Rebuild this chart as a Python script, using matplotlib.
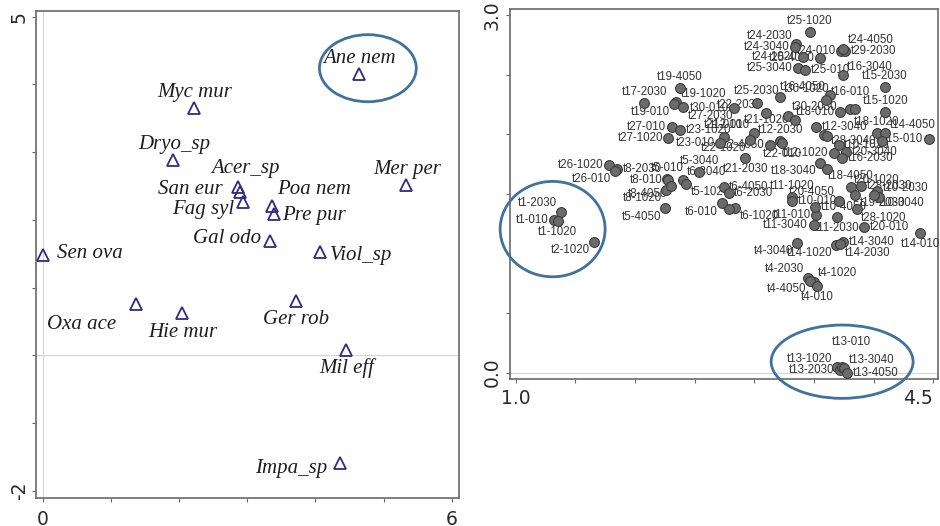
import matplotlib.pyplot as plt
from matplotlib.patches import Ellipse

# species scores (left panel)
species = ["Ane nem", "Myc mur", "Dryo_sp", "Acer_sp", "San eur", "Fag syl",
           "Poa nem", "Pre pur", "Gal odo", "Sen ova", "Viol_sp", "Mer per",
           "Oxa ace", "Hie mur", "Ger rob", "Mil eff", "Impa_sp"]
sp_ax1 = [4.64, 2.215, 1.917, 2.86, 2.89, 2.94, 3.36, 3.39, 3.335, 0.0, 4.07,
          5.33, 1.37, 2.05, 3.72, 4.455, 4.357]
sp_ax2 = [4.16, 3.65, 2.89, 2.48, 2.42, 2.27, 2.21, 2.09, 1.69, 1.48, 1.52,
          2.52, 0.755, 0.62, 0.80, 0.08, -1.59]

# sample scores (right panel)
samples = ["t25-1020", "t24-2030", "t24-3040", "t24-010", "t29-2030", "t24-4050",
           "t24-1020", "t25-4050", "t25-3040", "t25-010", "t16-3040", "t15-2030",
           "t19-4050", "t17-2030", "t25-2030", "t16-4050", "t30-1020", "t16-010",
           "t15-1020", "t19-1020", "t19-010", "t27-2030", "t30-010", "t22-2030",
           "t30-2030", "t18-010", "t16-1020", "t17-010", "t18-1020", "t14-4050",
           "t15-010", "t28-3040", "t12-3040", "t22-3040", "t29-1020", "t12-2030",
           "t21-1020", "t12-010", "t21-010", "t27-010", "t23-1020", "t27-1020",
           "t23-010", "t22-1020", "t12-4050", "t22-010", "t12-1020", "t10-1020",
           "t20-3040", "t16-2030", "t18-3040", "t13-3040b", "t26-1020", "t8-2030",
           "t26-010", "t5-3040", "t5-010", "t8-010", "t6-3040", "t21-2030",
           "t6-4050", "t5-1020", "t6-2030", "t8-1020", "t8-4050", "t5-4050",
           "t6-010", "t6-1020", "t7-010", "t11-1020", "t10-010", "t20-4050",
           "t18-4050", "t20-1020", "t10-2030", "t28-2030", "t19-2030", "t10-3040",
           "t11-010", "t11-3040", "t10-4050", "t28-1020", "t11-2030", "t20-010",
           "t14-010", "t14-3040", "t4-3040", "t14-1020", "t14-2030", "t4-2030",
           "t4-1020", "t4-4050", "t4-010", "t13-1020", "t13-2030", "t13-010",
           "t13-3040", "t13-4050", "t1-2030", "t1-010", "t1-1020", "t2-1020"]
smp_ax1 = [3.463, 3.352, 3.343, 3.729, 3.763, 3.746,
           3.410, 3.553, 3.368, 3.427, 3.743, 4.092,
           2.378, 2.079, 3.022, 3.631, 3.211, 3.603,
           4.098, 2.345, 2.329, 2.404, 2.832, 3.100,
           3.279, 3.721, 3.805, 3.847, 4.029, 4.098,
           4.461, 4.072, 3.519, 3.580, 3.609, 3.217,
           3.343, 3.000, 2.742, 2.309, 2.378, 2.280,
           2.714, 2.966, 3.134, 3.232, 3.664, 3.706,
           3.771, 3.735, 3.553, 3.609, 1.785, 1.852,
           1.833, 2.540, 2.267, 2.280, 2.401, 2.924,
           2.742, 2.429, 2.784, 2.261, 2.303, 2.253,
           2.728, 2.840, 2.784, 3.315, 3.318, 3.712,
           3.810, 4.029, 4.042, 3.896, 3.847, 4.006,
           3.519, 3.497, 3.511, 3.861, 3.693, 3.922,
           4.392, 3.743, 3.357, 3.687, 3.721, 3.450,
           3.497, 3.469, 3.525, 3.693, 3.715, 3.735,
           3.754, 3.777, 1.378, 1.321, 1.352, 1.657]
smp_ax2 = [2.856, 2.757, 2.732, 2.699, 2.699, 2.716,
           2.649, 2.641, 2.556, 2.539, 2.497, 2.394,
           2.386, 2.260, 2.265, 2.330, 2.310, 2.288,
           2.185, 2.271, 2.254, 2.225, 2.218, 2.176,
           2.154, 2.185, 2.210, 2.210, 2.008, 2.008,
           1.958, 1.944, 2.064, 1.994, 1.985, 1.944,
           2.121, 2.008, 1.980, 2.059, 2.036, 1.966,
           1.925, 1.952, 1.910, 1.925, 1.841, 1.910,
           1.852, 1.799, 1.757, 1.706, 1.742, 1.706,
           1.692, 1.681, 1.622, 1.617, 1.617, 1.799,
           1.560, 1.583, 1.510, 1.533, 1.566, 1.379,
           1.421, 1.384, 1.373, 1.470, 1.441, 1.443,
           1.555, 1.524, 1.477, 1.566, 1.491, 1.491,
           1.323, 1.239, 1.393, 1.371, 1.309, 1.225,
           1.169, 1.099, 1.091, 1.071, 1.075, 0.797,
           0.763, 0.769, 0.727, 0.045, 0.023, 0.050,
           0.039, 0.000, 1.351, 1.281, 1.275, 1.099]

# label placement around each species / sample point
sp_offsets = [(0, 10.8), (0.5, 11.3), (0.5, 11), (5.3, 13.7), (-35.8, 1.4),
              (-28.6, -5.3), (30.5, 11.5), (29.3, -1.4), (-31.2, 1.9),
              (34.1, 1), (29.3, -1.9), (0.5, 11.3), (-38.9, -14.2),
              (0.2, -13.7), (0.2, -13.2), (0, -13.2), (-35, -3.6)]
smp_pos = ["t", "tl", "l", "l", "r", "tr",
           "l", "l", "l", "r", "tr", "t",
           "t", "t", "t", "tl", "tr", "tr",
           "t", "tr", "bl", "br", "l", "tl",
           "tr", "l", "", "", "t", "tr",
           "l", "l", "r", "", "", "t",
           "l", "tl", "t", "l", "r", "l",
           "l", "bl", "l", "b", "l", "r",
           "r", "r", "bl", "", "l", "r",
           "bl", "t", "t", "l", "tr", "b",
           "r", "br", "r", "bl", "bl", "bl",
           "bl", "br", "", "t", "r", "tl",
           "t", "t", "tr", "r", "br", "br",
           "l", "l", "r", "br", "b", "r",
           "b", "r", "bl", "bl", "br", "tl",
           "tr", "bl", "b", "tl", "l", "T",
           "tr", "r", "tl", "l", "b", "bl"]
pos_style = {"t": (0, 8, "center"), "b": (0, -8, "center"),
             "l": (-4, 0, "right"), "r": (4, 0, "left"),
             "tl": (-3, 6, "right"), "tr": (3, 6, "left"),
             "bl": (-3, -6, "right"), "br": (3, -6, "left"),
             "T": (7, 18, "center")}

ring = "#41719c"
spine_col = "#6a6a6a"

fig = plt.figure(figsize=(9.4, 5.26), dpi=100)
ax1 = fig.add_axes([0.0383, 0.0538, 0.45, 0.926])
ax2 = fig.add_axes([0.5426, 0.2795, 0.4553, 0.7034])

# ---- left: species
ax1.axhline(0, color="#d4d4d4", lw=0.8, zorder=0)
ax1.axvline(0, color="#d4d4d4", lw=0.8, zorder=0)
ax1.plot(sp_ax1, sp_ax2, linestyle="none", marker="^", markersize=8.5,
         markerfacecolor="none", markeredgecolor="#2e2a85", markeredgewidth=1.3)
for name, x, y, off in zip(species, sp_ax1, sp_ax2, sp_offsets):
    ax1.annotate(name, (x, y), xytext=off, textcoords="offset points",
                 ha="center", va="center", fontsize=15, fontstyle="italic",
                 family="Liberation Serif", color="#1e1e1e")
ax1.add_patch(Ellipse((4.77, 4.24), 1.42, 0.99, fill=False, edgecolor=ring,
                      lw=2, clip_on=False))
ax1.set_xlim(-0.098, 6.107)
ax1.set_ylim(-2.1, 5.09)
ax1.set_xticks(range(0, 7))
ax1.set_xticklabels(["0", "", "", "", "", "", "6"])
ax1.set_yticks(range(-2, 6))
ax1.set_yticklabels(["-2", "", "", "", "", "", "", "5"], rotation=90, va="center")
ax1.tick_params(direction="out", length=3, color=spine_col, labelsize=13.5,
                labelcolor="#2a2a2a")
ax1.tick_params(axis="x", pad=6)
ax1.tick_params(axis="y", pad=2)

# ---- right: samples
ax2.axhline(0, color="#d4d4d4", lw=0.8, zorder=0)
for name, x, y, p in zip(samples, smp_ax1, smp_ax2, smp_pos):
    if not p:
        continue
    dx, dy, ha = pos_style[p]
    ax2.annotate(name, (x, y), xytext=(dx, dy), textcoords="offset points",
                 ha=ha, va="center", fontsize=8.3, family="Liberation Sans",
                 color="#333333", zorder=3)
ax2.scatter(smp_ax1, smp_ax2, s=50, facecolor="#6b6b6b", edgecolor="#3c3c3c",
            linewidth=0.8, zorder=4)
ax2.add_patch(Ellipse((1.309, 1.204), 0.88, 0.80, fill=False, edgecolor=ring,
                      lw=2, clip_on=False, zorder=5))
ax2.add_patch(Ellipse((3.736, 0.092), 1.19, 0.615, fill=False, edgecolor=ring,
                      lw=2, clip_on=False, zorder=5))
ax2.set_xlim(0.952, 4.54)
ax2.set_ylim(-0.053, 3.05)
ax2.set_xticks([1.0 + 0.5 * i for i in range(8)])
ax2.set_xticklabels(["1.0", "", "", "", "", "", "", "4.5"])
ax2.set_yticks([0.5 * i for i in range(7)])
ax2.set_yticklabels(["0.0", "", "", "", "", "", "3.0"], rotation=90, va="center")
ax2.tick_params(direction="out", length=3, color=spine_col, labelsize=13.5,
                labelcolor="#2a2a2a", pad=4)
ax2.tick_params(axis="y", pad=3)
ax2.get_xticklabels()[-1].set_horizontalalignment("right")

for ax in (ax1, ax2):
    for s in ax.spines.values():
        s.set_color(spine_col)
        s.set_linewidth(1.2)

fig.savefig("out.png", dpi=100)
